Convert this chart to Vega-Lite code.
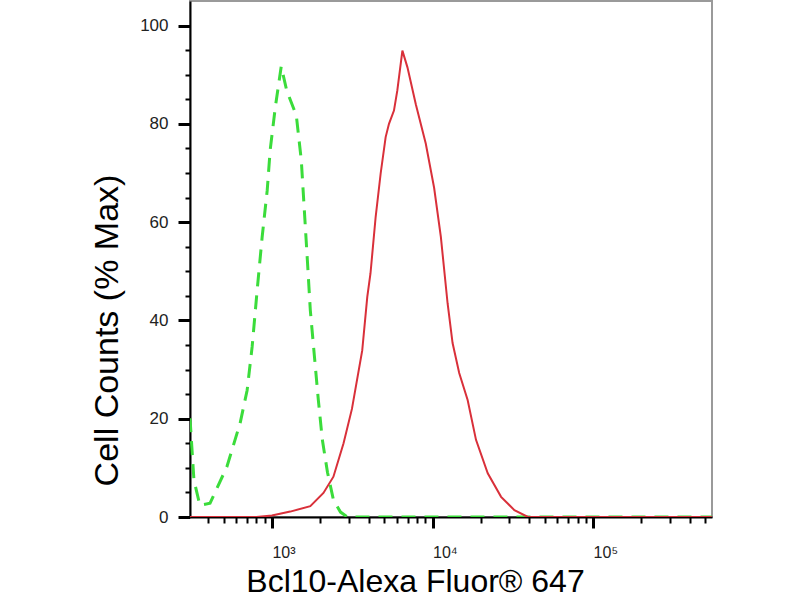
{
  "$schema": "https://vega.github.io/schema/vega-lite/v6.json",
  "background": "white",
  "autosize": "none",
  "padding": {"left": 190, "top": 1, "right": 88, "bottom": 83},
  "width": 522,
  "height": 516,
  "config": {
    "view": {"stroke": "#9a9a9a", "strokeWidth": 2},
    "font": "Liberation Sans"
  },
  "datasets": {
    "control": [
      {"intensity": 309, "pct": 20.1},
      {"intensity": 327, "pct": 7.5},
      {"intensity": 356, "pct": 2.4},
      {"intensity": 412, "pct": 2.8},
      {"intensity": 524, "pct": 10.2},
      {"intensity": 634, "pct": 19.1},
      {"intensity": 701, "pct": 25.8},
      {"intensity": 753, "pct": 34.6},
      {"intensity": 809, "pct": 46.1},
      {"intensity": 869, "pct": 56.9},
      {"intensity": 935, "pct": 66.5},
      {"intensity": 975, "pct": 74.6},
      {"intensity": 1050, "pct": 83.4},
      {"intensity": 1143, "pct": 91.7},
      {"intensity": 1236, "pct": 86.8},
      {"intensity": 1419, "pct": 81.7},
      {"intensity": 1524, "pct": 72.6},
      {"intensity": 1592, "pct": 62.4},
      {"intensity": 1663, "pct": 52.2},
      {"intensity": 1734, "pct": 42.1},
      {"intensity": 1837, "pct": 32.9},
      {"intensity": 1946, "pct": 23.8},
      {"intensity": 2061, "pct": 15.7},
      {"intensity": 2218, "pct": 9.1},
      {"intensity": 2415, "pct": 3.5},
      {"intensity": 2673, "pct": 1.0},
      {"intensity": 2958, "pct": 0},
      {"intensity": 549000, "pct": 0}
    ],
    "bcl10": [
      {"intensity": 309, "pct": 0},
      {"intensity": 800, "pct": 0},
      {"intensity": 1000, "pct": 0.3},
      {"intensity": 1301, "pct": 1.1},
      {"intensity": 1734, "pct": 2.2},
      {"intensity": 2094, "pct": 4.9},
      {"intensity": 2416, "pct": 8.2},
      {"intensity": 2793, "pct": 15},
      {"intensity": 3150, "pct": 22},
      {"intensity": 3651, "pct": 33.9},
      {"intensity": 3925, "pct": 44.8},
      {"intensity": 4111, "pct": 49.6},
      {"intensity": 4424, "pct": 61},
      {"intensity": 4755, "pct": 69.9},
      {"intensity": 5108, "pct": 77.3},
      {"intensity": 5358, "pct": 80},
      {"intensity": 5754, "pct": 82.7},
      {"intensity": 6039, "pct": 86.8},
      {"intensity": 6494, "pct": 94.9},
      {"intensity": 6982, "pct": 91.5},
      {"intensity": 7870, "pct": 84},
      {"intensity": 9077, "pct": 76},
      {"intensity": 10233, "pct": 67},
      {"intensity": 11272, "pct": 57},
      {"intensity": 12413, "pct": 43.5},
      {"intensity": 13335, "pct": 35.4},
      {"intensity": 14663, "pct": 29.3},
      {"intensity": 16548, "pct": 23.8},
      {"intensity": 18657, "pct": 15.7},
      {"intensity": 22080, "pct": 8.9},
      {"intensity": 26730, "pct": 4.1},
      {"intensity": 32359, "pct": 1.4},
      {"intensity": 39264, "pct": 0},
      {"intensity": 549000, "pct": 0}
    ]
  },
  "encoding": {
    "x": {
      "field": "intensity",
      "type": "quantitative",
      "scale": {"type": "log", "domain": [309, 550000], "nice": false},
      "axis": {
        "title": "Bcl10-Alexa Fluor® 647",
        "titleFontSize": 32,
        "titleFontWeight": "normal",
        "titleColor": "black",
        "titleAnchor": null,
        "titleAlign": "center",
        "titleBaseline": "alphabetic",
        "titleX": 225,
        "titleY": 74,
        "values": [400, 500, 600, 700, 800, 900, 1000, 2000, 3000, 4000, 5000, 6000, 7000, 8000, 9000, 10000, 20000, 30000, 40000, 50000, 60000, 70000, 80000, 90000, 100000, 200000, 300000, 400000, 500000],
        "labelExpr": "datum.value === 1000 ? '10³' : datum.value === 10000 ? '10⁴' : datum.value === 100000 ? '10⁵' : ''",
        "labelOverlap": false,
        "labelFlush": false,
        "labelAlign": "left",
        "labelBaseline": "alphabetic",
        "labelPadding": 29,
        "labelFontSize": 16,
        "labelColor": "#222",
        "domainColor": "black",
        "domainWidth": 2,
        "tickColor": "black",
        "tickSize": {"condition": {"test": "datum.value === 1000 || datum.value === 10000 || datum.value === 100000", "value": 11}, "value": 6},
        "tickWidth": {"condition": {"test": "datum.value === 1000 || datum.value === 10000 || datum.value === 100000", "value": 3}, "value": 2},
        "grid": false
      }
    },
    "y": {
      "field": "pct",
      "type": "quantitative",
      "scale": {"domain": [0, 105], "nice": false, "zero": true},
      "axis": {
        "title": "Cell Counts (% Max)",
        "titleFontSize": 34,
        "titleFontWeight": "normal",
        "titleColor": "black",
        "titleAnchor": null,
        "titleAngle": 270,
        "titleAlign": "center",
        "titleBaseline": "middle",
        "titleX": -83,
        "titleY": 329,
        "values": [0, 5, 10, 15, 20, 25, 30, 35, 40, 45, 50, 55, 60, 65, 70, 75, 80, 85, 90, 95, 100],
        "labelExpr": "datum.value % 20 === 0 ? datum.label : ''",
        "labelOverlap": false,
        "labelFlush": false,
        "labelFontSize": 17,
        "labelColor": "#222",
        "labelPadding": 10,
        "domainColor": "black",
        "domainWidth": 2,
        "tickColor": "black",
        "tickSize": {"condition": {"test": "datum.value % 20 === 0", "value": 12}, "value": 5},
        "tickWidth": {"condition": {"test": "datum.value % 20 === 0", "value": 3}, "value": 2},
        "grid": false
      }
    }
  },
  "layer": [
    {
      "data": {"name": "control"},
      "mark": {"type": "line", "color": "#3bdc3b", "strokeWidth": 3, "strokeDash": [14, 9], "clip": true}
    },
    {
      "data": {"name": "bcl10"},
      "mark": {"type": "line", "color": "#d9303a", "strokeWidth": 2, "clip": true}
    }
  ]
}
